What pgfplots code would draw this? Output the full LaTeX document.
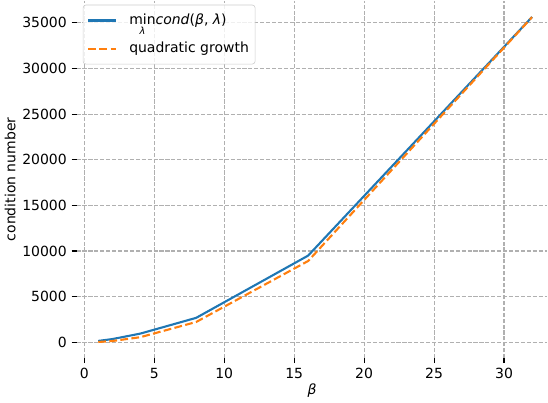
\documentclass[border=0pt]{standalone}
\usepackage{fontspec}
\setmainfont{DejaVu Sans}
\usepackage{amsmath}
\usepackage{pgfplots}
\pgfplotsset{compat=1.18}
\definecolor{mplblue}{HTML}{1F77B4}
\definecolor{mplorange}{HTML}{FF7F0E}
\definecolor{gridgray}{HTML}{B0B0B0}
\begin{document}
\begin{tikzpicture}
\begin{axis}[
  scale only axis,
  width=337pt, height=256pt,
  xmin=-0.55, xmax=33.1,
  ymin=-1750, ymax=37450,
  axis line style={draw=none},
  tick pos=left,
  tick align=outside,
  major tick length=3.5pt,
  tick style={black, line width=0.8pt},
  xtick={0,5,10,15,20,25,30},
  ytick={0,5000,10000,15000,20000,25000,30000,35000},
  scaled ticks=false,
  /pgf/number format/1000 sep={},
  /pgf/number format/assume math mode=true,
  ticklabel style={font=\fontsize{10}{12}\selectfont},
  grid=major,
  major grid style={gridgray, line width=0.8pt, dash pattern=on 2.96pt off 1.28pt},
  xlabel={\textit{β}},
  ylabel={condition number},
  label style={font=\fontsize{10}{12}\selectfont},
  xlabel style={yshift=3pt},
  ylabel style={yshift=-2pt},
  legend cell align=left,
  legend style={at={(0,1)}, anchor=north west, xshift=4.5pt, yshift=-3pt,
    draw=black!20, rounded corners=2pt, fill=white, fill opacity=0.8, text opacity=1,
    font=\fontsize{10}{12}\selectfont, row sep=8pt, inner xsep=3pt, inner ysep=5pt,
    nodes={inner sep=1.5pt}},
  legend image code/.code={\draw[#1] (0cm,0cm) -- (0.7cm,0cm); \path (0.95cm,0cm);},
]
\addplot[mplblue, line width=1.5pt] coordinates {
  (1,150) (2,350) (4,950) (8,2680) (16,9500) (32,35650)
};
\addlegendentry{$\mathop{\text{min}}\limits_{\text{\itshape λ}}$\textit{cond}(\textit{β}, \textit{λ})}
\addplot[mplorange, line width=1.5pt, dash pattern=on 5.55pt off 2.4pt] coordinates {
  (1,34.8) (2,139.2) (4,556.8) (8,2227) (16,8909) (32,35635)
};
\addlegendentry{quadratic growth}
\end{axis}
\end{tikzpicture}
\end{document}
